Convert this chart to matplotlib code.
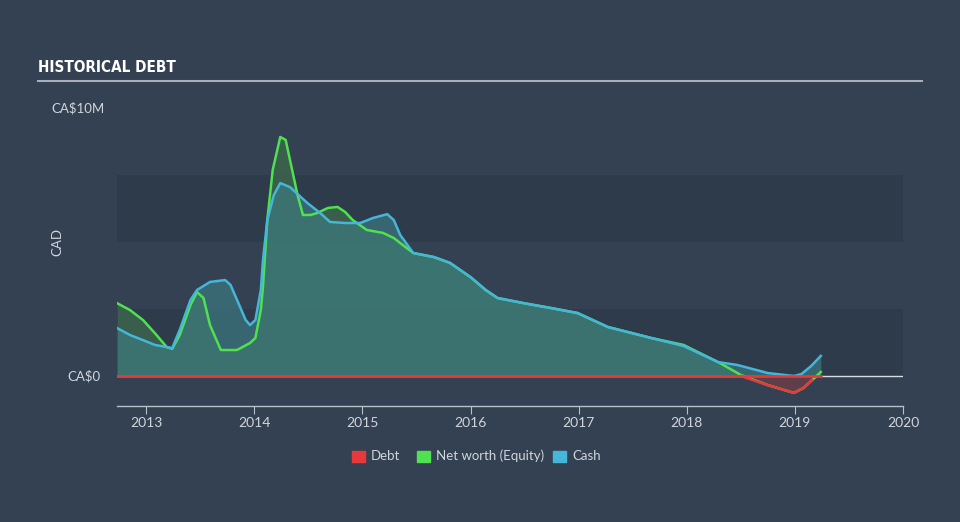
import numpy as np
from matplotlib import pyplot as plt
from matplotlib.patches import Rectangle

# dates as fractional years, values in CA$ millions
equity_t = [2012.73, 2012.85, 2012.97, 2013.08, 2013.19, 2013.24, 2013.31, 2013.41, 2013.47,
            2013.53, 2013.59, 2013.69, 2013.84, 2013.96, 2014.01, 2014.06, 2014.08, 2014.12,
            2014.17, 2014.24, 2014.29, 2014.33, 2014.40, 2014.45, 2014.52, 2014.58, 2014.68,
            2014.77, 2014.84, 2014.91, 2015.04, 2015.19, 2015.29, 2015.35, 2015.47, 2015.66,
            2015.81, 2016.00, 2016.14, 2016.25, 2016.49, 2016.74, 2016.99, 2017.27, 2017.67,
            2017.97, 2018.29, 2018.50, 2018.75, 2018.99, 2019.08, 2019.16, 2019.24]
equity = [2.72, 2.46, 2.09, 1.60, 1.08, 1.01, 1.53, 2.65, 3.13, 2.91, 1.90, 0.97, 0.97, 1.23,
          1.42, 2.46, 3.32, 5.82, 7.69, 8.92, 8.81, 8.06, 6.75, 6.01, 6.01, 6.08, 6.27, 6.31,
          6.12, 5.82, 5.45, 5.34, 5.15, 4.96, 4.59, 4.44, 4.22, 3.69, 3.21, 2.91, 2.72, 2.54,
          2.35, 1.83, 1.42, 1.16, 0.52, 0.04, -0.34, -0.63, -0.45, -0.15, 0.15]

cash_t = [2012.73, 2012.85, 2012.97, 2013.08, 2013.19, 2013.24, 2013.31, 2013.41, 2013.47,
          2013.59, 2013.73, 2013.78, 2013.84, 2013.92, 2013.96, 2014.01, 2014.06, 2014.08,
          2014.12, 2014.18, 2014.24, 2014.33, 2014.43, 2014.49, 2014.61, 2014.70, 2014.84,
          2014.98, 2015.10, 2015.23, 2015.29, 2015.35, 2015.47, 2015.66, 2015.81, 2016.00,
          2016.14, 2016.25, 2016.49, 2016.74, 2016.99, 2017.27, 2017.67, 2017.97, 2018.29,
          2018.47, 2018.75, 2018.99, 2019.06, 2019.15, 2019.24]
cash = [1.79, 1.53, 1.34, 1.16, 1.08, 1.04, 1.72, 2.84, 3.21, 3.51, 3.58, 3.40, 2.84, 2.09,
        1.90, 2.09, 3.21, 4.33, 5.82, 6.75, 7.20, 7.05, 6.68, 6.46, 6.08, 5.75, 5.71, 5.71,
        5.90, 6.04, 5.82, 5.26, 4.59, 4.44, 4.22, 3.69, 3.21, 2.91, 2.72, 2.54, 2.35, 1.83,
        1.42, 1.12, 0.52, 0.41, 0.11, 0.00, 0.07, 0.37, 0.75]

debt_t = [2012.73, 2019.24]
debt = [0.0, 0.0]

years = [2013, 2014, 2015, 2016, 2017, 2018, 2019, 2020]

bg = '#344152'
band = '#2e3b4b'
c_debt = '#e8393a'
c_eq = '#4fe14f'
c_cash = '#45b6da'
txt = '#d0d5db'

plt.rcParams['font.family'] = ['Lato', 'DejaVu Sans']

fig = plt.figure(figsize=(9.6, 5.22), dpi=100, facecolor=bg)
ax = fig.add_axes([0.1219, 0.2222, 0.8187, 0.5862], facecolor=bg)

ax.set_xlim(2012.73, 2020.0)
ax.set_ylim(-1.12, 10.3)

for lo in (0, 5):
    ax.add_patch(Rectangle((2012.73, lo), 7.27, 2.5, color=band, lw=0, zorder=0))

ax.axhline(0, color='#d8dde3', lw=1, zorder=1)

et = np.array(equity_t)
ev = np.array(equity)
ct = np.array(cash_t)
cv = np.array(cash)

ax.fill_between(et, 0, np.clip(ev, 0, None), color='#3d6a4c', alpha=0.75, lw=0, zorder=2)
ax.fill_between(ct, 0, np.clip(cv, 0, None), color='#3d7e84', alpha=0.65, lw=0, zorder=2)
ax.fill_between(et, 0, np.clip(ev, None, 0), color='#6b3e48', alpha=0.8, lw=0, zorder=2)

ax.plot(ct, cv, color=c_cash, lw=1.8, zorder=4, solid_joinstyle='round')
ax.plot(et, ev, color=c_eq, lw=1.8, zorder=3, solid_joinstyle='round')
ax.plot(debt_t, debt, color=c_debt, lw=1.8, zorder=5)
# negative net worth is drawn in the debt colour
neg = np.where(ev <= 0.05, np.clip(ev, None, 0), np.nan)
ax.plot(et, neg, color=c_debt, lw=1.8, zorder=5, solid_joinstyle='round')

for s in ['top', 'right', 'left']:
    ax.spines[s].set_visible(False)
ax.spines['bottom'].set_color('#b8c0ca')
ax.spines['bottom'].set_linewidth(1)

ax.set_xticks(years)
ax.set_xticklabels([str(y) for y in years])
ax.tick_params(axis='x', colors='#b8c0ca', labelcolor=txt, labelsize=10, length=6,
               direction='out', pad=2)
ax.set_yticks([])

ax.text(-0.083, 10.0, 'CA$10M', transform=ax.get_yaxis_transform(), ha='left', va='center',
        color=txt, fontsize=9.5)
ax.text(-0.021, 0, 'CA$0', transform=ax.get_yaxis_transform(), ha='right', va='center',
        color=txt, fontsize=9.5)
ax.text(-0.076, 5.0, 'CAD', transform=ax.get_yaxis_transform(), ha='center', va='center',
        rotation=90, color=txt, fontsize=9.5)

fig.text(38 / 960, 1 - 68 / 522, 'HISTORICAL DEBT', family='DejaVu Sans', stretch='condensed',
         weight='bold', color='white', fontsize=11, va='center', ha='left')
fig.add_artist(plt.Line2D([38 / 960, 922 / 960], [1 - 81 / 522] * 2, color='#a9b0b9', lw=1.5))

# legend
items = [('Debt', c_debt, 352), ('Net worth (Equity)', c_eq, 417), ('Cash', c_cash, 553)]
for label, col, x in items:
    fig.patches.append(Rectangle((x / 960, 1 - 462 / 522), 13 / 960, 11 / 522, color=col,
                                 transform=fig.transFigure, figure=fig))
    fig.text((x + 19) / 960, 1 - 456 / 522, label, color=txt, fontsize=9.5, va='center',
             ha='left')

plt.savefig('out.png', dpi=100, facecolor=bg)
